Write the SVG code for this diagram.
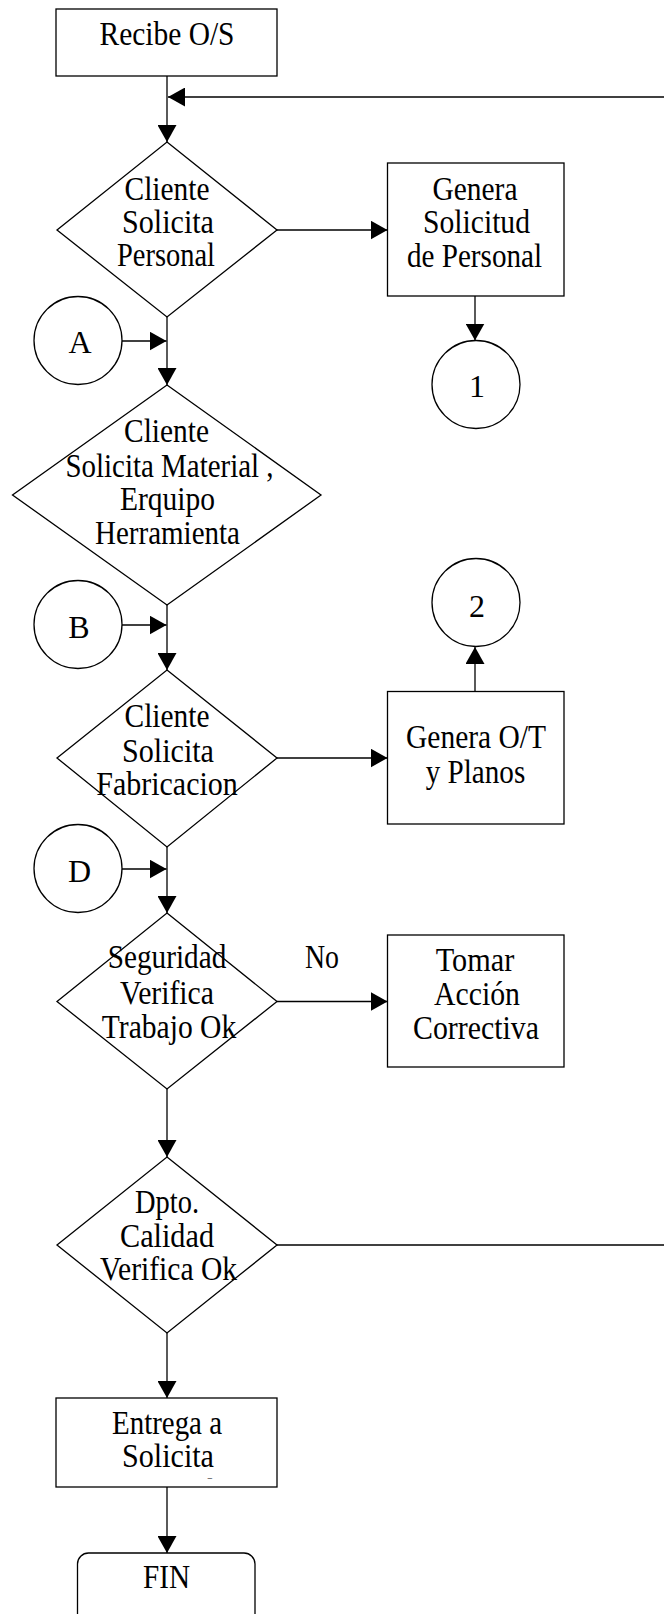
<svg xmlns="http://www.w3.org/2000/svg" width="664" height="1614" viewBox="0 0 664 1614">
  <style>
    .shape { fill: #ffffff; stroke: #000000; stroke-width: 1.3; }
    .wire { fill: none; stroke: #000000; stroke-width: 1.3; }
    .wire-arrow { fill: none; stroke: #000000; stroke-width: 1.3; marker-end: url(#head); }
    .lbl { font-family: "Liberation Serif", "Times New Roman", serif; font-size: 34px; fill: #000000; text-anchor: middle; }
    .lbl.sm { font-size: 32px; }
  </style>
  <defs>
    <marker id="head" markerUnits="userSpaceOnUse" markerWidth="18" markerHeight="19" refX="17" refY="9.5" orient="auto">
      <path d="M0,0 L17,9.5 L0,19 Z" fill="#000000"/>
    </marker>
    <clipPath id="deliverClip">
      <rect x="56" y="1398" width="221" height="81"/>
    </clipPath>
  </defs>

  <rect width="664" height="1614" fill="#ffffff"/>

  <!-- connectors -->
  <g id="connectors">
    <line class="wire-arrow" x1="167" y1="76" x2="167" y2="142"/>
    <line class="wire-arrow" x1="664" y1="97" x2="168" y2="97"/>
    <line class="wire-arrow" x1="277" y1="230" x2="387.5" y2="230"/>
    <line class="wire-arrow" x1="475" y1="296" x2="475" y2="340.5"/>
    <line class="wire-arrow" x1="167" y1="317" x2="167" y2="385"/>
    <line class="wire-arrow" x1="122" y1="341" x2="166.5" y2="341"/>
    <line class="wire-arrow" x1="167" y1="605" x2="167" y2="670"/>
    <line class="wire-arrow" x1="122" y1="625" x2="166.5" y2="625"/>
    <line class="wire-arrow" x1="277" y1="758" x2="387.5" y2="758"/>
    <line class="wire-arrow" x1="475" y1="691.5" x2="475" y2="647"/>
    <line class="wire-arrow" x1="167" y1="847" x2="167" y2="913"/>
    <line class="wire-arrow" x1="122" y1="869" x2="166.5" y2="869"/>
    <line class="wire-arrow" x1="277" y1="1001.5" x2="387.5" y2="1001.5"/>
    <line class="wire-arrow" x1="167" y1="1089" x2="167" y2="1157"/>
    <line class="wire" x1="277" y1="1245" x2="664" y2="1245"/>
    <line class="wire-arrow" x1="167" y1="1333" x2="167" y2="1398"/>
    <line class="wire-arrow" x1="167" y1="1487" x2="167" y2="1553"/>
    <text class="lbl" x="322" y="968" textLength="34" lengthAdjust="spacingAndGlyphs">No</text>
  </g>

  <g id="recibe">
    <rect class="shape" x="56" y="9" width="221" height="67"/>
    <text class="lbl" x="167" y="45" textLength="135" lengthAdjust="spacingAndGlyphs">Recibe O/S</text>
  </g>

  <g id="dec-personal">
    <polygon class="shape" points="167,142 277,230 167,317 57,230"/>
    <text class="lbl" x="167" y="199.5" textLength="85" lengthAdjust="spacingAndGlyphs">Cliente</text>
    <text class="lbl" x="168" y="232.5" textLength="92" lengthAdjust="spacingAndGlyphs">Solicita</text>
    <text class="lbl" x="166" y="266" textLength="98" lengthAdjust="spacingAndGlyphs">Personal</text>
  </g>

  <g id="genera-solicitud">
    <rect class="shape" x="387.5" y="163" width="176.5" height="133"/>
    <text class="lbl" x="475" y="200" textLength="85" lengthAdjust="spacingAndGlyphs">Genera</text>
    <text class="lbl" x="476.5" y="233" textLength="107" lengthAdjust="spacingAndGlyphs">Solicitud</text>
    <text class="lbl" x="474.5" y="266.5" textLength="135" lengthAdjust="spacingAndGlyphs">de Personal</text>
  </g>

  <g id="conn-1">
    <circle class="shape" cx="476" cy="384.5" r="44"/>
    <text class="lbl sm" x="477" y="397">1</text>
  </g>

  <g id="conn-a">
    <circle class="shape" cx="78" cy="340.5" r="44"/>
    <text class="lbl sm" x="80" y="353">A</text>
  </g>

  <g id="dec-material">
    <polygon class="shape" points="167,385 321,495 167,605 12.5,495"/>
    <text class="lbl" x="166.5" y="442" textLength="85" lengthAdjust="spacingAndGlyphs">Cliente</text>
    <text class="lbl" x="169.5" y="476.5" textLength="208" lengthAdjust="spacingAndGlyphs">Solicita Material ,</text>
    <text class="lbl" x="167.5" y="509.5" textLength="95" lengthAdjust="spacingAndGlyphs">Erquipo</text>
    <text class="lbl" x="167.5" y="543.5" textLength="145" lengthAdjust="spacingAndGlyphs">Herramienta</text>
  </g>

  <g id="conn-b">
    <circle class="shape" cx="78" cy="624.5" r="44"/>
    <text class="lbl sm" x="79" y="638">B</text>
  </g>

  <g id="conn-2">
    <circle class="shape" cx="476" cy="602.5" r="44"/>
    <text class="lbl sm" x="477" y="616.5">2</text>
  </g>

  <g id="dec-fabricacion">
    <polygon class="shape" points="167,670 277,758 167,847 57,758"/>
    <text class="lbl" x="167" y="727" textLength="85" lengthAdjust="spacingAndGlyphs">Cliente</text>
    <text class="lbl" x="168" y="761.5" textLength="92" lengthAdjust="spacingAndGlyphs">Solicita</text>
    <text class="lbl" x="167" y="795" textLength="141.5" lengthAdjust="spacingAndGlyphs">Fabricacion</text>
  </g>

  <g id="genera-ot">
    <rect class="shape" x="387.5" y="691.5" width="176.5" height="132.5"/>
    <text class="lbl" x="476" y="748" textLength="140" lengthAdjust="spacingAndGlyphs">Genera O/T</text>
    <text class="lbl" x="475.5" y="783" textLength="99.5" lengthAdjust="spacingAndGlyphs">y Planos</text>
  </g>

  <g id="conn-d">
    <circle class="shape" cx="78" cy="868.5" r="44"/>
    <text class="lbl sm" x="79.5" y="881.5">D</text>
  </g>

  <g id="dec-seguridad">
    <polygon class="shape" points="167,913 277,1001.5 167,1089 57,1001.5"/>
    <text class="lbl" x="167" y="968" textLength="118.5" lengthAdjust="spacingAndGlyphs">Seguridad</text>
    <text class="lbl" x="167" y="1004" textLength="94" lengthAdjust="spacingAndGlyphs">Verifica</text>
    <text class="lbl" x="169" y="1038" textLength="134.5" lengthAdjust="spacingAndGlyphs">Trabajo Ok</text>
  </g>

  <g id="accion-correctiva">
    <rect class="shape" x="387.5" y="935" width="176.5" height="132"/>
    <text class="lbl" x="475" y="971" textLength="78.5" lengthAdjust="spacingAndGlyphs">Tomar</text>
    <text class="lbl" x="477" y="1005" textLength="86" lengthAdjust="spacingAndGlyphs">Acción</text>
    <text class="lbl" x="476" y="1038.5" textLength="126" lengthAdjust="spacingAndGlyphs">Correctiva</text>
  </g>

  <g id="dec-calidad">
    <polygon class="shape" points="167,1157 277,1245 167,1333 57,1245"/>
    <text class="lbl" x="167" y="1213" textLength="64" lengthAdjust="spacingAndGlyphs">Dpto.</text>
    <text class="lbl" x="167" y="1246.5" textLength="94" lengthAdjust="spacingAndGlyphs">Calidad</text>
    <text class="lbl" x="168.5" y="1280" textLength="137" lengthAdjust="spacingAndGlyphs">Verifica Ok</text>
  </g>

  <g id="entrega">
    <rect class="shape" x="56" y="1398" width="221" height="89"/>
    <text class="lbl" x="167" y="1434" textLength="110" lengthAdjust="spacingAndGlyphs">Entrega a</text>
    <text class="lbl" x="168" y="1467" textLength="92" lengthAdjust="spacingAndGlyphs">Solicita</text>
    <g clip-path="url(#deliverClip)">
      <text class="lbl" x="166" y="1502" textLength="98" lengthAdjust="spacingAndGlyphs">Personal</text>
    </g>
  </g>

  <g id="fin">
    <rect class="shape" x="77.5" y="1553" width="177.5" height="80" rx="11" ry="11"/>
    <text class="lbl" x="166.5" y="1588" textLength="47" lengthAdjust="spacingAndGlyphs">FIN</text>
  </g>
</svg>
